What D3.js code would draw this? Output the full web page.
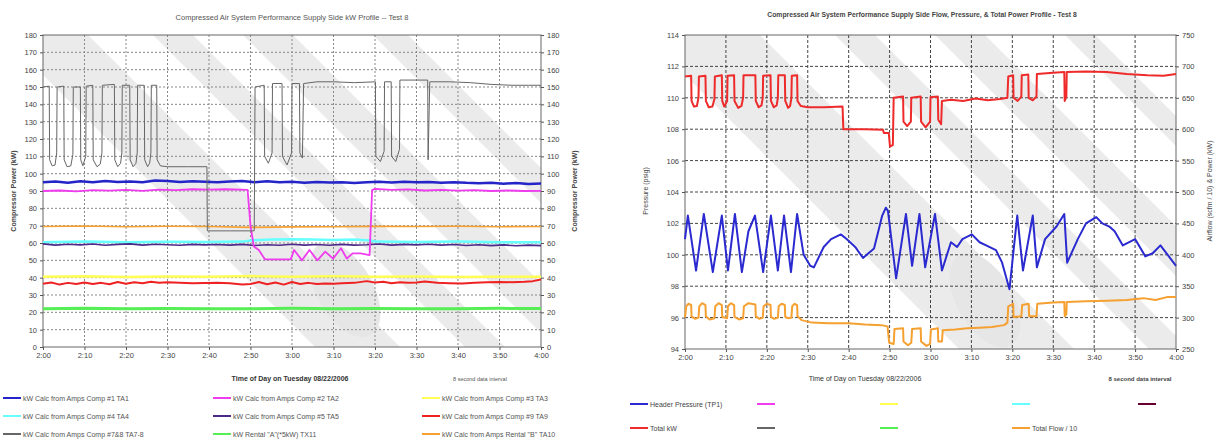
<!DOCTYPE html>
<html>
<head>
<meta charset="utf-8">
<script src="https://cdn.jsdelivr.net/npm/d3@7.9.0/dist/d3.min.js"></script>
<style>
  body { margin: 0; background: #fff; }
  svg { display: block; font-family: "Liberation Sans", Arial, sans-serif; }
</style>
</head>
<body>
<svg id="chart" width="1221" height="440"></svg>
<script>
// time axis: minutes after 2:00
const tickMinutes = [0, 10, 20, 30, 40, 50, 60, 70, 80, 90, 100, 110, 120];
const timeLabels = ["2:00", "2:10", "2:20", "2:30", "2:40", "2:50", "3:00", "3:10", "3:20", "3:30", "3:40", "3:50", "4:00"];

// ---- left chart: kW per compressor ----
const kwTicks = [0, 10, 20, 30, 40, 50, 60, 70, 80, 90, 100, 110, 120, 130, 140, 150, 160, 170, 180];

const ta1 = [[0,95],[3,95.5],[6,94.8],[9,95.6],[12,95],[15,95.8],[18,95.2],[21,95.5],[24,95],[27,96],[30,95.8],[33,95.2],[36,95.6],[39,95.3],[42,95],[45,95.5],[48,95.8],[51,95],[54,95.6],[57,95.1],[60,95.4],[63,94.8],[66,95.2],[69,94.9],[72,95.1],[75,94.6],[78,95],[81,95.3],[84,94.9],[87,95.4],[90,95],[93,95.2],[96,94.8],[99,95.1],[102,94.7],[105,94.5],[108,94.8],[111,94.2],[114,94.6],[117,94.1],[120,94.3]];
const ta2 = [[0,90],[4,90.3],[8,89.8],[12,90.5],[16,90.2],[20,90.6],[24,90.1],[28,90.8],[32,90.5],[36,91],[40,90.8],[44,91],[49.3,90.6],[50,70],[50.8,58],[52,56],[53.5,50.5],[59.7,50.5],[60.5,56],[62.4,50],[64.2,56],[66.1,50],[68,55],[69.9,51],[71.8,57],[73.2,51],[74.6,54],[76.5,54],[78.7,53],[79.3,90.5],[80,91.2],[84,90.6],[88,90.9],[92,90.3],[96,90.6],[100,90.2],[104,90.5],[108,90],[112,90.3],[116,90],[120,90.1]];
const ta3 = [[0,40.5],[10,40.8],[20,40.4],[30,40.7],[40,40.5],[50,40.9],[60,40.6],[70,40.8],[80,40.5],[90,40.7],[100,40.4],[110,40.6],[120,40.5]];
const ta4 = [[0,60.5],[10,60.8],[20,60.5],[30,60.7],[40,60.6],[48,60.8],[50,61.5],[55,62],[60,62.2],[65,62],[70,61.8],[75,62],[79,61.5],[80,60.8],[90,60.6],[100,60.8],[110,60.5],[120,60.4]];
const ta5 = [[0,59.5],[3,58.8],[6,59.3],[9,58.9],[12,59.4],[15,58.7],[18,59.2],[21,59.5],[24,58.8],[27,59.3],[30,59],[33,58.7],[36,59.2],[39,58.9],[42,59.1],[45,58.8],[48,59.2],[51,58.6],[54,59],[57,58.7],[60,59.3],[63,58.8],[66,59.1],[69,58.7],[72,59.2],[75,58.8],[78,59],[81,59.4],[84,58.8],[87,59.2],[90,58.9],[93,59.3],[96,58.8],[99,59.1],[102,58.6],[105,59],[108,58.5],[111,58.9],[114,58.4],[117,58.8],[120,58.5]];
const ta9 = [[0,36.5],[2,37.2],[4,36],[6,37],[8,36.3],[10,37.2],[12,36.4],[14,37],[16,36.2],[18,37.5],[20,36.5],[22,37.3],[24,36.8],[26,37.6],[28,37],[30,37.3],[33,37],[36,36.8],[39,36.9],[42,37],[45,36.8],[48,36],[50,36.3],[52,37.5],[54,36.2],[56,37.2],[58,36],[60,37.5],[62,36.4],[64,37],[66,36.3],[68,36.6],[70,36.5],[72,36.8],[75,37],[78,38],[80,37.2],[82,37.6],[84,36.8],[86,37.4],[88,37],[90,37.2],[92,37.8],[95,37],[98,36.8],[101,36.7],[104,37],[107,37.3],[110,37.5],[113,37.4],[116,37.6],[118,38],[120,39]];
const ta78 = [[0,150],[1.5,150.5],[1.6,108],[2.2,104.5],[2.9,105],[3.3,112],[3.4,150],[5,150.5],[5.1,108],[5.8,104],[6.7,104.5],[7.2,111],[7.3,150],[9,150],[9.1,108],[9.6,104.5],[10.3,110],[10.4,150.5],[12,151],[12.1,108],[13,104],[13.8,105.5],[14.2,112],[14.3,151],[17.2,151.5],[17.3,108],[18,104],[18.7,106],[19,112],[19.1,151],[20.9,151],[21,108],[21.7,104],[22.4,106],[22.7,112],[22.8,151],[24.4,151],[24.5,108],[25.2,104],[25.7,106],[26,112],[26.1,151],[27.4,151],[27.5,108],[28.3,104.5],[30,104],[35,104],[39.5,104],[39.6,67],[45,67],[50.9,67],[51.1,150],[53.3,151],[53.4,110],[54.3,106],[55.2,112],[55.3,152],[57.6,152],[57.7,110],[58.8,105],[59.9,112],[60,152],[61.8,152],[61.9,112],[62.5,109],[62.8,152],[66,153],[70,153],[75,152.5],[80.1,153],[80.2,110],[81.3,107],[82.2,113],[82.3,153],[83.9,153],[84,110],[85,107],[85.9,114],[86,154],[90,154],[92.7,154],[92.8,108],[93.2,153],[98,153],[103,152.5],[108,151.5],[113,151],[117,151],[120,151]];
const tx11 = [[0,22],[10,22.3],[20,22],[30,22.2],[40,22],[50,22.1],[60,22.3],[70,22],[80,22.2],[90,22],[100,22.1],[110,22.3],[120,22.2]];
const ta10 = [[0,69.5],[10,69.8],[20,69.4],[30,69.7],[40,69.5],[50,69],[60,69.3],[70,69.4],[80,69.6],[90,69.5],[100,69.7],[110,69.4],[120,69.5]];

const kwLegend = [
  "kW Calc from Amps Comp #1 TA1", "kW Calc from Amps Comp #2 TA2", "kW Calc from Amps Comp #3 TA3",
  "kW Calc from Amps Comp #4 TA4", "kW Calc from Amps Comp #5 TA5", "kW Calc from Amps Comp #9 TA9",
  "kW Calc from Amps Comp #7&8 TA7-8", "kW Rental \"A\"(*5kW) TX11", "kW Calc from Amps Rental \"B\" TA10"
];

// ---- right chart: pressure, total kW, total flow ----
const psigTicks = [94, 96, 98, 100, 102, 104, 106, 108, 110, 112, 114];
const rightTicks = [250, 300, 350, 400, 450, 500, 550, 600, 650, 700, 750];

const headerPressure = [[0,101],[0.7,102.5],[2.7,99],[4.6,102.6],[6.8,98.9],[9,102.5],[10.5,99],[12.2,102.6],[13.9,98.9],[15.5,101.5],[17.1,102.5],[19.1,98.9],[21,102.5],[22.7,99],[24.2,102.5],[25.9,98.9],[27.4,102.6],[29,100],[30.6,99.3],[31.5,99.2],[33.9,100.5],[35.7,101],[38.1,101.3],[39.5,101],[41.6,100.5],[43.5,99.8],[46.2,100.4],[48.2,102.5],[49.1,103],[49.6,102.8],[51.6,98.5],[54,102.6],[55.5,99.3],[57.3,102.6],[58.7,99.2],[61.1,102.6],[62.8,99],[65,100.8],[66.5,100.5],[67.8,101],[70.1,101.3],[72,100.8],[73.6,100.6],[76,100.3],[77.5,99.5],[79.3,97.8],[81.2,102.5],[82.6,99],[85,102.5],[86,99.2],[88,101],[90.8,101.8],[92.7,102.6],[93.4,99.5],[96,101],[98,102],[100.5,102.4],[102,102],[103.7,101.8],[105,101.5],[107,100.6],[110,101],[112.5,99.9],[114.3,100.1],[116.2,100.6],[120,99.3]];
const totalKw = [[0,684],[1.5,685],[1.6,645],[2.2,636],[2.9,637],[3.3,650],[3.4,684],[5,685],[5.1,645],[5.8,635],[6.7,636],[7.2,648],[7.3,684],[9,686],[9.1,645],[9.6,636],[10.3,645],[10.4,685],[12,686],[12.1,645],[13,634],[13.8,637],[14.2,650],[14.3,686],[17.2,686],[17.3,645],[18,635],[18.7,638],[19,650],[19.1,685],[20.9,686],[21,645],[21.7,635],[22.4,638],[22.7,650],[22.8,686],[24.4,686],[24.5,645],[25.2,634],[25.7,637],[26,650],[26.1,685],[27.4,686],[27.5,645],[28.3,637],[30,635],[34,635],[38.5,636],[38.7,600],[44,600],[48.4,599],[48.6,594],[49.8,594],[50.1,572],[50.8,575],[51,650],[53.3,652],[53.4,612],[54.3,605],[55.2,612],[55.3,650],[57.6,652],[57.7,612],[58.8,603],[59.9,612],[60,651],[61.8,652],[61.9,615],[62.6,608],[62.8,645],[65,647],[68,645],[71,649],[74,646],[77,648],[78.8,650],[79,684],[80.2,686],[80.3,650],[81.3,645],[82.2,652],[82.3,686],[83.9,687],[84,650],[85,646],[85.9,652],[86,688],[90,690],[92.7,691],[92.8,645],[93.2,652],[93.3,691],[98,692],[103,691],[108,688],[113,686],[117,685],[120,688]];
const totalFlow = [[0,300],[0.3,318],[0.8,322],[1.5,320],[1.6,302],[2.5,298],[3.3,300],[3.5,318],[4.2,323],[5,320],[5.1,302],[6,297],[7.2,299],[7.4,318],[8.2,323],[9,320],[9.1,301],[10.3,299],[10.5,318],[11.2,323],[12,320],[12.1,301],[13.2,297],[14.2,299],[14.4,318],[15.5,323],[17.2,321],[17.3,302],[18.2,298],[19,300],[19.2,318],[20,322],[20.9,320],[21,301],[21.8,298],[22.7,300],[22.9,318],[23.6,322],[24.4,320],[24.5,301],[25.3,299],[26,300],[26.2,318],[26.8,322],[27.4,320],[27.5,302],[28.5,296],[31,292],[35,291],[40,291],[44,289],[48,288],[49.5,286],[49.9,260],[51,258],[51.2,282],[53.3,283],[53.4,262],[54.5,256],[55.3,260],[55.5,282],[57.6,283],[57.7,262],[59,255],[59.9,258],[60.1,281],[61.8,283],[61.9,262],[62.8,262],[63,280],[66,281],[69,283],[72,284],[75,285],[78,288],[78.8,292],[79,318],[80.2,322],[80.3,301],[82.2,302],[82.4,320],[84,322],[84.1,302],[85.9,302],[86.1,322],[90,324],[92.7,325],[92.8,302],[93.2,305],[93.3,325],[98,326],[103,327],[108,328],[112,331],[115,328],[118,333],[120,333]];

const flowLegend = ["Header Pressure (TP1)", "", "", "", "", "Total kW", "", "", "Total Flow / 10"];

const svg = d3.select("#chart");

// faint copyright stamp stripes behind the plots
function stamp(id, x0, y0, w, h, bands, blob) {
  svg.append("clipPath").attr("id", id)
    .append("rect").attr("x", x0).attr("y", y0).attr("width", w).attr("height", h);
  const g = svg.append("g").attr("clip-path", `url(#${id})`);
  bands.forEach(([c1, c2]) => {
    g.append("polygon")
      .attr("points", [[x0 + c1, y0], [x0 + c2, y0], [x0 + c2 + h, y0 + h], [x0 + c1 + h, y0 + h]].map(p => p.join(",")).join(" "))
      .attr("fill", "#ebebeb");
  });
  g.append("ellipse")
    .attr("cx", blob[0]).attr("cy", blob[1]).attr("rx", 28).attr("ry", 52)
    .attr("transform", `rotate(-30,${blob[0]},${blob[1]})`)
    .attr("fill", "#e6e6e6");
}

function grid(x, y, yTicks, color, dash) {
  const [x0, x1] = x.range();
  const [y1, y0] = y.range();
  svg.append("g").selectAll("line.h").data(yTicks.slice(1, -1)).join("line")
    .attr("x1", x0).attr("x2", x1).attr("y1", d => y(d)).attr("y2", d => y(d))
    .attr("stroke", color).attr("stroke-dasharray", dash);
  svg.append("g").selectAll("line.v").data(tickMinutes.slice(1, -1)).join("line")
    .attr("x1", d => x(d)).attr("x2", d => x(d)).attr("y1", y0).attr("y2", y1)
    .attr("stroke", color).attr("stroke-dasharray", dash);
  svg.append("rect").attr("x", x0).attr("y", y0).attr("width", x1 - x0).attr("height", y1 - y0)
    .attr("fill", "none").attr("stroke", "#666");
}

function axes(x, yL, yR, ticksL, ticksR) {
  const [x0, x1] = x.range();
  const yb = yL.range()[0];
  const style = g => {
    g.select(".domain").remove();
    g.selectAll("line").attr("stroke", "#555");
    g.selectAll("text").attr("fill", "#444").attr("font-size", 7.5);
  };
  svg.append("g").attr("transform", `translate(0,${yb})`)
    .call(d3.axisBottom(x).tickValues(tickMinutes).tickFormat((d, i) => timeLabels[i]).tickSize(3).tickPadding(3))
    .call(style);
  svg.append("g").attr("transform", `translate(${x0},0)`)
    .call(d3.axisLeft(yL).tickValues(ticksL).tickSize(3).tickPadding(3)).call(style);
  svg.append("g").attr("transform", `translate(${x1},0)`)
    .call(d3.axisRight(yR).tickValues(ticksR).tickSize(3).tickPadding(3)).call(style);
}

function series(x, y, data, color, width) {
  svg.append("path").datum(data)
    .attr("d", d3.line().x(d => x(d[0])).y(d => y(d[1])))
    .attr("fill", "none").attr("stroke", color).attr("stroke-width", width)
    .attr("stroke-linejoin", "round");
}

function label(x, y, txt, opts = {}) {
  const t = svg.append("text").attr("x", x).attr("y", y).text(txt)
    .attr("font-size", opts.size || 7).attr("fill", opts.fill || "#444")
    .attr("text-anchor", opts.anchor || "middle")
    .attr("font-weight", opts.bold ? "bold" : "normal");
  if (opts.rotate) t.attr("transform", `rotate(${opts.rotate},${x},${y})`);
  return t;
}

// page heading from the report, cut off by the top edge as in the scan
label(610, -6, "Figure 9: Trending Graphs of Test 8 Supply Side Compressor Operation", { size: 20, fill: "#111", bold: true })
  .attr("font-family", "Liberation Serif, Times New Roman, serif");

// ===== left chart =====
const xL = d3.scaleLinear().domain([0, 120]).range([43, 541]);
const yL = d3.scaleLinear().domain([0, 180]).range([347, 35]);

stamp("clipL", 43, 35, 498, 312, [[-40, 45], [110, 150], [200, 250], [330, 365]], [345, 290]);
grid(xL, yL, kwTicks, "#888", "2,2");

const kwColors = {
  ta1: "#2424c8", ta2: "#ee3cee", ta3: "#ffff55", ta4: "#66ffff", ta5: "#4b2a8a",
  ta9: "#ee2222", ta78: "#666666", tx11: "#55ee55", ta10: "#f5a030"
};
series(xL, yL, tx11, kwColors.tx11, 3);
series(xL, yL, ta3, kwColors.ta3, 2.5);
series(xL, yL, ta9, kwColors.ta9, 2);
series(xL, yL, ta4, kwColors.ta4, 2.5);
series(xL, yL, ta5, kwColors.ta5, 1.6);
series(xL, yL, ta10, kwColors.ta10, 1.6);
series(xL, yL, ta2, kwColors.ta2, 1.8);
series(xL, yL, ta1, kwColors.ta1, 2.5);
series(xL, yL, ta78, kwColors.ta78, 1);

axes(xL, yL, yL, kwTicks, kwTicks);

label(292, 20, "Compressed Air System Performance Supply Side kW Profile  --  Test 8", { size: 7.5, fill: "#555" });
label(16, 191, "Compressor Power (kW)", { size: 7, bold: true, rotate: -90 });
label(577, 191, "Compressor Power (kW)", { size: 7, bold: true, rotate: -90 });
label(290, 381, "Time of Day on Tuesday 08/22/2006", { size: 7, bold: true, fill: "#333" });
label(480, 381, "8 second data interval", { size: 5.5, fill: "#555" });

const kwLegendColors = [kwColors.ta1, kwColors.ta2, kwColors.ta3, kwColors.ta4, kwColors.ta5, kwColors.ta9, kwColors.ta78, kwColors.tx11, kwColors.ta10];
const legColX = [3, 213, 422];
const legRowY = [398, 416, 434];
kwLegend.forEach((name, i) => {
  const cx = legColX[i % 3], cy = legRowY[Math.floor(i / 3)];
  svg.append("line").attr("x1", cx).attr("x2", cx + 18).attr("y1", cy).attr("y2", cy)
    .attr("stroke", kwLegendColors[i]).attr("stroke-width", 2);
  label(cx + 20, cy + 2.5, name, { size: 7, anchor: "start", fill: "#555" });
});

// ===== right chart =====
const xR = d3.scaleLinear().domain([0, 120]).range([685, 1176]);
const yP = d3.scaleLinear().domain([94, 114]).range([349, 35]);
const yK = d3.scaleLinear().domain([250, 750]).range([349, 35]);

stamp("clipR", 685, 35, 491, 314, [[-40, 75], [150, 190], [250, 300], [380, 410]], [985, 300]);
grid(xR, yP, psigTicks, "#444", "3,2");

series(xR, yK, totalFlow, "#f5a030", 2);
series(xR, yP, headerPressure, "#2a2ad0", 2);
series(xR, yK, totalKw, "#ee2a2a", 2);

axes(xR, yP, yK, psigTicks, rightTicks);

label(922, 17, "Compressed Air System Performance Supply Side Flow, Pressure, & Total Power Profile  -  Test 8", { size: 6.8, bold: true, fill: "#444" });
label(648, 191, "Pressure (psig)", { size: 7, rotate: -90 });
label(1212, 191, "Airflow (scfm / 10) & Power (kW)", { size: 7, rotate: -90 });
label(865, 381, "Time of Day on Tuesday 08/22/2006", { size: 7, fill: "#333" });
label(1140, 381, "8 second data interval", { size: 6, bold: true, fill: "#444" });

const flowLegendColors = ["#2a2ad0", "#ee3cee", "#ffff55", "#66ffff", "#660033", "#ee2a2a", "#666666", "#55ee55", "#f5a030"];
const flowColX = [630, 757, 880, 1012, 1138];
const flowRowY = [404, 428];
flowLegend.forEach((name, i) => {
  const cx = flowColX[i % 5], cy = flowRowY[Math.floor(i / 5)];
  svg.append("line").attr("x1", cx).attr("x2", cx + 18).attr("y1", cy).attr("y2", cy)
    .attr("stroke", flowLegendColors[i]).attr("stroke-width", 2);
  if (name) label(cx + 20, cy + 2.5, name, { size: 7, anchor: "start", fill: "#444" });
});
</script>
</body>
</html>
